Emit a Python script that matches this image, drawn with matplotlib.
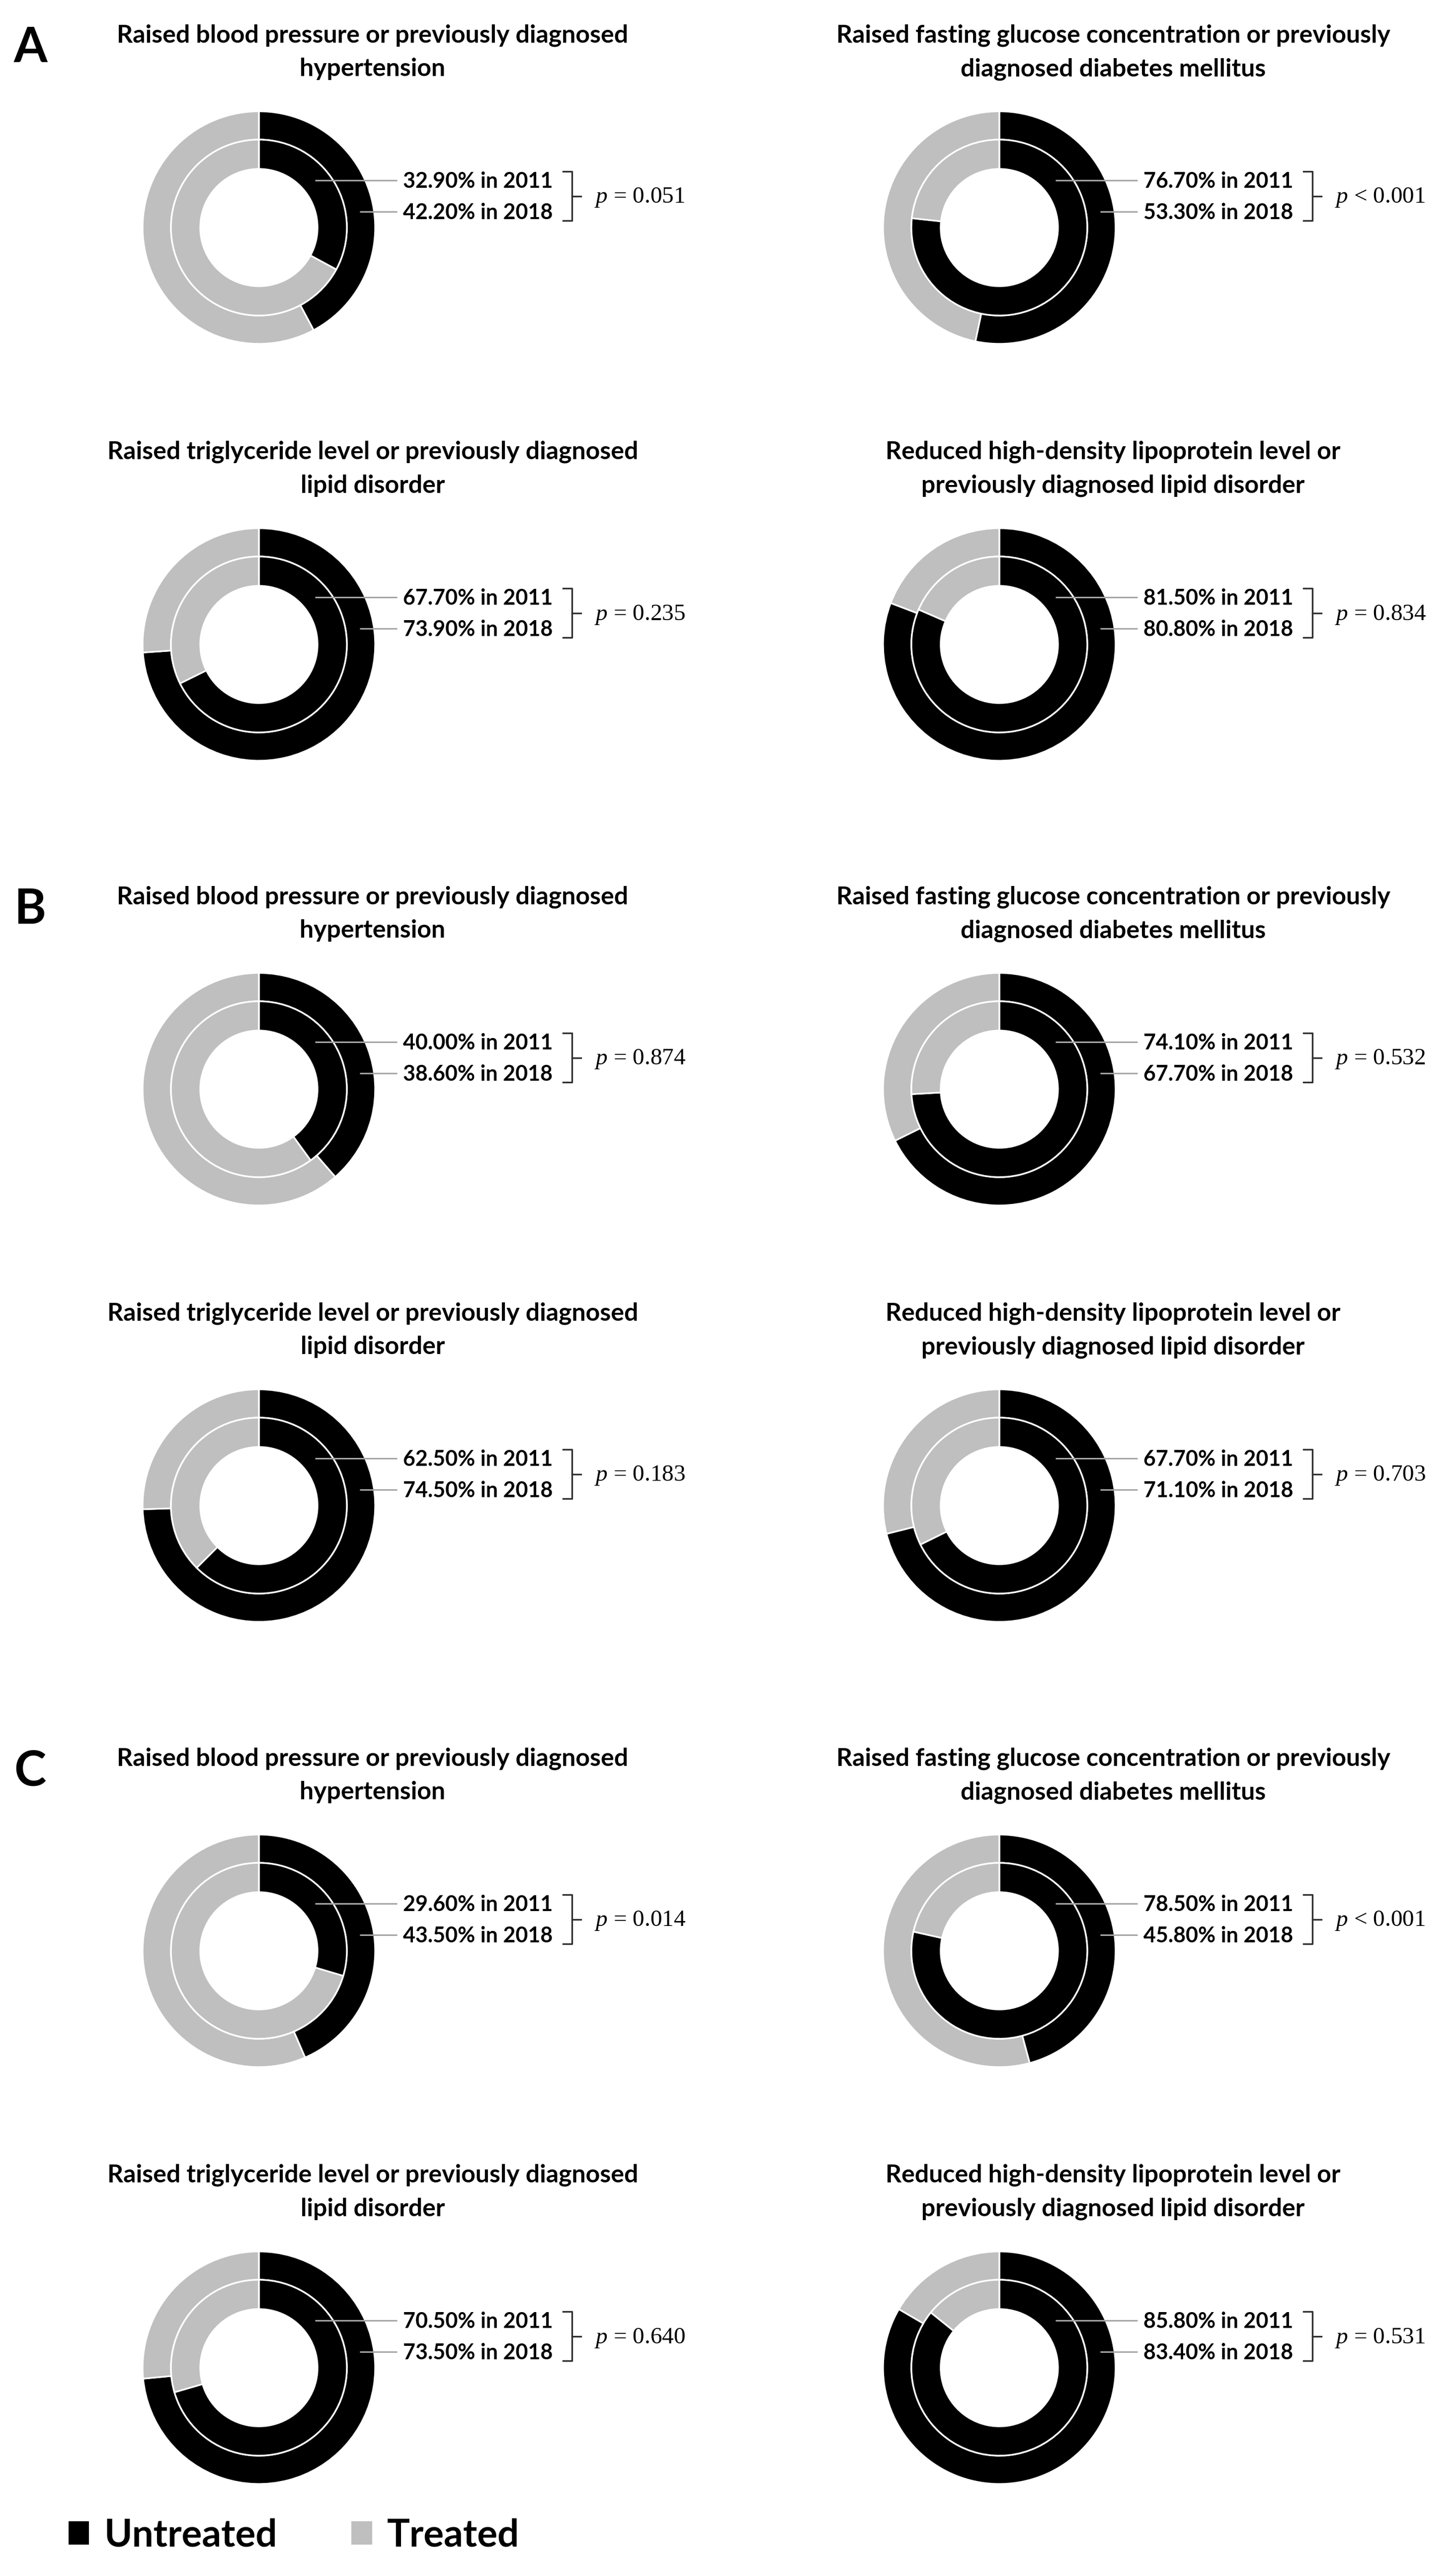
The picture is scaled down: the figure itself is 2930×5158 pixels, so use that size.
import matplotlib
matplotlib.use('Agg')
import matplotlib.pyplot as plt
from matplotlib.patches import Patch

# Figure size in pixels (drawn at dpi 100)
W, H = 2930, 5158

panel_letters = ['A', 'B', 'C']

titles = [
    'Raised blood pressure or previously diagnosed\nhypertension',
    'Raised fasting glucose concentration or previously\ndiagnosed diabetes mellitus',
    'Raised triglyceride level or previously diagnosed\nlipid disorder',
    'Reduced high-density lipoprotein level or\npreviously diagnosed lipid disorder',
]

# % untreated, one list per panel (A, B, C), order as in titles
untreated_2011 = [
    [32.9, 76.7, 67.7, 81.5],
    [40.0, 74.1, 62.5, 67.7],
    [29.6, 78.5, 70.5, 85.8],
]
untreated_2018 = [
    [42.2, 53.3, 73.9, 80.8],
    [38.6, 67.7, 74.5, 71.1],
    [43.5, 45.8, 73.5, 83.4],
]
p_values = [
    ['= 0.051', '< 0.001', '= 0.235', '= 0.834'],
    ['= 0.874', '= 0.532', '= 0.183', '= 0.703'],
    ['= 0.014', '< 0.001', '= 0.640', '= 0.531'],
]

legend_labels = ['Untreated', 'Treated']
colors = ['#000000', '#bfbfbf']

# layout (pixels from top-left)
row_centers = [458, 1297, 2192, 3030, 3926, 4765]
col_centers = [521, 2011]
R_OUT, W_OUT = 234, 57
R_IN, W_IN = 177, 59
LBL_DY = [-95, -32]

plt.rcParams['mathtext.fontset'] = 'custom'
plt.rcParams['mathtext.it'] = 'Liberation Serif:italic'
plt.rcParams['mathtext.rm'] = 'Liberation Serif'

fig = plt.figure(figsize=(W / 100, H / 100), dpi=100)
ax = fig.add_axes([0, 0, 1, 1])


def Y(y):
    return H - y


for i, letter in enumerate(panel_letters):
    ax.text(28, Y(row_centers[2 * i] - 333), letter, fontsize=70, fontweight='bold',
            family='Lato', ha='left', va='baseline')
    for j in range(4):
        cx = col_centers[j % 2]
        cy = row_centers[2 * i + j // 2]

        # title, two lines
        l1, l2 = titles[j].split('\n')
        ax.text(cx + 229, Y(cy - 373), l1, fontsize=36, fontweight='bold', family='Lato',
                ha='center', va='baseline')
        ax.text(cx + 229, Y(cy - 305), l2, fontsize=36, fontweight='bold', family='Lato',
                ha='center', va='baseline')

        u11 = untreated_2011[i][j]
        u18 = untreated_2018[i][j]
        # outer ring = 2018, inner ring = 2011
        ax.pie([u18, 100 - u18], radius=R_OUT, center=(cx, Y(cy)), startangle=90,
               counterclock=False, colors=colors,
               wedgeprops=dict(width=W_OUT, edgecolor='white', linewidth=2.4))
        ax.pie([u11, 100 - u11], radius=R_IN, center=(cx, Y(cy)), startangle=90,
               counterclock=False, colors=colors,
               wedgeprops=dict(width=W_IN, edgecolor='white', linewidth=2.4))

        # labels with leader lines
        tx = cx + 290
        mids = [R_IN - W_IN / 2, R_OUT - W_OUT / 2]
        texts = [f'{u11:.2f}% in 2011', f'{u18:.2f}% in 2018']
        for k in range(2):
            dy = LBL_DY[k]
            x0 = cx + (mids[k] ** 2 - dy ** 2) ** 0.5
            ax.plot([x0, tx - 12], [Y(cy + dy), Y(cy + dy)], color='#a6a6a6', lw=2.2,
                    solid_capstyle='butt')
            ax.text(tx, Y(cy + dy + 15), texts[k], fontsize=31, fontweight='bold',
                    family='Lato', ha='left', va='baseline')

        # bracket
        bx0, bx1, bx2 = cx + 612, cx + 630, cx + 648
        ytop, ybot = cy + LBL_DY[0] - 18, cy + LBL_DY[1] + 18
        ymid = (ytop + ybot) / 2
        ax.plot([bx0, bx1, bx1, bx0], [Y(ytop), Y(ytop), Y(ybot), Y(ybot)],
                color='#303030', lw=2.4)
        ax.plot([bx1, bx2], [Y(ymid), Y(ymid)], color='#303030', lw=2.4)
        ax.text(cx + 675, Y(ymid + 14), '$p$ ' + p_values[i][j], fontsize=34,
                family='Liberation Serif', ha='left', va='baseline')

ax.set_xlim(0, W)
ax.set_ylim(0, H)
ax.set_aspect('equal')
ax.axis('off')

handles = [Patch(facecolor=c, edgecolor='none') for c in colors]
fig.legend(handles, legend_labels, loc='lower left', bbox_to_anchor=(138 / W, 0.004),
           ncol=2, frameon=False, prop=dict(family='Lato', weight='bold', size=55),
           handlelength=0.54, handleheight=0.58, handletextpad=0.4,
           columnspacing=1.95, borderpad=0, borderaxespad=0)

fig.savefig('out.png', dpi=100)
